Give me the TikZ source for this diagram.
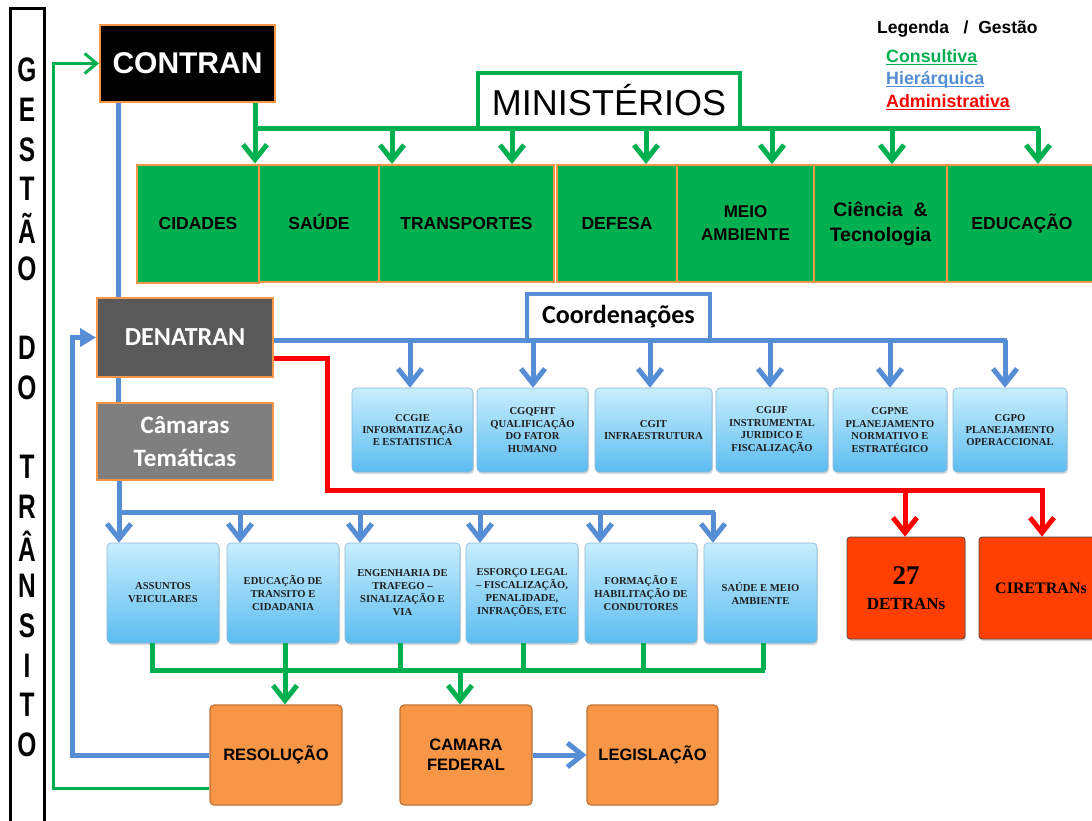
\documentclass[tikz,border=0pt]{standalone}
\usepackage{fontspec}
\setmainfont{Liberation Sans}
\newfontfamily\calib{Carlito}
\newfontfamily\serf{Liberation Serif}
\usetikzlibrary{arrows.meta,shadows}
\definecolor{gr}{RGB}{0,176,80}
\definecolor{bl}{RGB}{85,142,213}
\definecolor{rd}{RGB}{255,0,0}
\definecolor{orb}{RGB}{247,150,70}
\definecolor{orline}{RGB}{190,115,55}
\definecolor{redbox}{RGB}{255,64,0}
\definecolor{lbtop}{RGB}{200,238,253}
\definecolor{lbbot}{RGB}{92,188,240}
\definecolor{lbbord}{RGB}{140,185,215}
\definecolor{dgray}{RGB}{89,89,89}
\definecolor{mgray}{RGB}{127,127,127}
\definecolor{txt}{RGB}{30,30,30}
\tikzset{
  ministry/.style={draw=orb, line width=2pt, fill=gr, inner sep=0pt, minimum height=117pt, align=center, font=\bfseries\fontsize{17.5}{22}\selectfont},
  oneline/.style={text height=12.6pt, text depth=0pt},
  topbox/.style={draw=orb, line width=2pt, inner sep=0pt, text=white, align=center},
  coordbox/.style={draw=lbbord, line width=0.6pt, rounded corners=4pt, top color=lbtop, bottom color=lbbot, inner sep=0pt, minimum height=84pt, align=center, text=txt, font=\serf\bfseries\fontsize{10.6}{12.4}\selectfont, drop shadow={opacity=0.3, shadow xshift=1pt, shadow yshift=-2pt}},
  ctbox/.style={coordbox, minimum height=100pt, font=\serf\bfseries\fontsize{10.6}{13}\selectfont},
  orbox/.style={draw=orline, line width=1.2pt, rounded corners=4pt, fill=orb, inner sep=0pt, minimum width=132pt, minimum height=100pt, align=center, font=\bfseries\fontsize{16.5}{20}\selectfont},
  redb/.style={draw=gray!60!black, line width=0.8pt, rounded corners=3pt, fill=redbox, inner sep=0pt, minimum height=102pt, align=center, font=\serf\bfseries, drop shadow={opacity=0.3, shadow xshift=1pt, shadow yshift=-2pt}},
  vletter/.style={inner sep=0pt, font=\bfseries\fontsize{34}{34}\selectfont, xscale=0.72},
  legtxt/.style={anchor=base west, inner sep=0pt, font=\bfseries\fontsize{17.8}{20}\selectfont},
  gline/.style={draw=gr, line width=5pt},
  bline/.style={draw=bl, line width=5pt},
  rline/.style={draw=rd, line width=5pt},
  barb/.style={-{Straight Barb[length=15pt,width=24pt]}},
  garr/.style={gline, barb},
  barr/.style={bline, barb},
  rarr/.style={rline, barb},
}
\begin{document}
\begin{tikzpicture}[x=1pt,y=-1pt]
\useasboundingbox (0,0) rectangle (1092,820);
\fill[white] (0,0) rectangle (1092,820);

% left vertical title
\draw[line width=3pt] (10,8) rectangle (44,840);
\foreach \i/\ch in {1/G,2/E,3/S,4/T,5/Ã,6/O,8/D,9/O,11/T,12/R,13/Â,14/N,15/S,16/I,17/T,18/O}
  \node[vletter] (v\i) at (27,{70+(\i-1)*39.7}) {\ch};

% legend
\node[anchor=base west, inner sep=0pt, font=\bfseries\fontsize{17.5}{20}\selectfont] (lega) at (877,33) {Legenda \ \ / \ Gestão};
\node[legtxt, text=gr] (legc) at (886,62) {Consultiva};
\node[legtxt, text=bl] (legh) at (886,84) {Hierárquica};
\node[legtxt, text=rd] (legd) at (886,107) {Administrativa};
\draw[gr, line width=1.6pt] ([yshift=-2.6pt]legc.base west) -- ([yshift=-2.6pt]legc.base east);
\draw[bl, line width=1.6pt] ([yshift=-2.6pt]legh.base west) -- ([yshift=-2.6pt]legh.base east);
\draw[rd, line width=1.6pt] ([yshift=-2.6pt]legd.base west) -- ([yshift=-2.6pt]legd.base east);

% top nodes
\node[topbox, fill=black, minimum width=175pt, minimum height=77pt, font=\bfseries\fontsize{30}{32}\selectfont] (contran) at (187.5,63.5) {CONTRAN};
\node[topbox, fill=dgray, minimum width=176pt, minimum height=79pt, font=\calib\bfseries\fontsize{26}{28}\selectfont] (denatran) at (185,337.5) {DENATRAN};
\node[topbox, fill=mgray, minimum width=176pt, minimum height=77pt, font=\calib\bfseries\fontsize{25}{33}\selectfont] (camaras) at (185,441.5) {Câmaras\\Temáticas};

% ministries
\node[ministry, oneline, minimum width=122pt, minimum height=118pt] (cid) at (198,223.5) {CIDADES};
\node[ministry, oneline, minimum width=120pt] (sau) at (319,223.5) {SAÚDE};
\node[ministry, oneline, minimum width=175pt] (tra) at (466.5,223.5) {TRANSPORTES};
\node[ministry, oneline, minimum width=120pt] (def) at (617,223.5) {DEFESA};
\node[ministry, minimum width=137pt, font=\bfseries\fontsize{17}{23}\selectfont] (mei) at (745.5,223.5) {MEIO\\AMBIENTE};
\node[ministry, minimum width=133pt, font=\bfseries\fontsize{19.5}{25}\selectfont] (cie) at (880.5,223.5) {Ciência \ \&\\Tecnologia};
\node[ministry, oneline, minimum width=150pt] (edu) at (1022,223.5) {EDUCAÇÃO};

% CONTRAN -> ministries (consultiva)
\draw[gline] (255,128) -- (1040,128);
\draw[garr] (contran.south -| 255,0) -- (255,0 |- cid.north);
\foreach \x/\n in {392/tra,512/tra,646/def,772/mei,892/cie,1038/edu}
  \draw[garr] (\x,128) -- (\x,0 |- \n.north);
\node[draw=gr, line width=4pt, fill=white, inner sep=0pt, minimum width=262pt, minimum height=55pt, font=\fontsize{36}{38}\selectfont] (min) at (609,100.5) {MINISTÉRIOS};

% hierarchy vertical
\draw[bline] (contran.south -| 118,0) -- (118,0 |- denatran.north);
\draw[bline] (denatran.south -| 118,0) -- (118,0 |- camaras.north);

% coordenacoes
\node[coordbox, minimum width=121pt] (c1) at (412.5,430) {CCGIE\\INFORMATIZAÇÃO\\E ESTATISTICA};
\node[coordbox, minimum width=111pt] (c2) at (532.5,430) {CGQFHT\\QUALIFICAÇÃO\\DO FATOR\\HUMANO};
\node[coordbox, minimum width=117pt] (c3) at (653.5,430) {CGIT\\INFRAESTRUTURA};
\node[coordbox, minimum width=112pt] (c4) at (772,430) {CGIJF\\INSTRUMENTAL\\JURIDICO E\\FISCALIZAÇÃO};
\node[coordbox, minimum width=114pt] (c5) at (890,430) {CGPNE\\PLANEJAMENTO\\NORMATIVO E\\ESTRATÉGICO};
\node[coordbox, minimum width=114pt] (c6) at (1010,430) {CGPO\\PLANEJAMENTO\\OPERACCIONAL};
\draw[bline] (denatran.east |- 0,340) -- (1007,340);
\foreach \x/\n in {410/c1,533/c2,650/c3,770/c4,890/c5,1005/c6}
  \draw[barr] (\x,340) -- (\x,0 |- \n.north);
\node[draw=bl, line width=4pt, fill=white, inner sep=0pt, minimum width=183pt, minimum height=46pt, font=\calib\bfseries\fontsize{26}{28}\selectfont] (coord) at (618.5,317) {Coordenações};

% camaras tematicas boxes
\node[ctbox, minimum width=112pt] (t1) at (163,593) {ASSUNTOS\\VEICULARES};
\node[ctbox, minimum width=112pt] (t2) at (283,593) {EDUCAÇÃO DE\\TRANSITO E\\CIDADANIA};
\node[ctbox, minimum width=115pt] (t3) at (402.5,593) {ENGENHARIA DE\\TRAFEGO –\\SINALIZAÇÃO E\\VIA};
\node[ctbox, minimum width=112pt] (t4) at (522,593) {ESFORÇO LEGAL\\– FISCALIZAÇÃO,\\PENALIDADE,\\INFRAÇÕES, ETC};
\node[ctbox, minimum width=112pt] (t5) at (641,593) {FORMAÇÃO E\\HABILITAÇÃO DE\\CONDUTORES};
\node[ctbox, minimum width=113pt] (t6) at (760.5,593) {SAÚDE E MEIO\\AMBIENTE};
\draw[bline] (118,512) -- (715,512);
\draw[barr] (camaras.south -| 119,0) -- (119,0 |- t1.north);
\foreach \x/\n in {240/t2,360/t3,480/t4,600/t5,713/t6}
  \draw[barr] (\x,512) -- (\x,0 |- \n.north);

% bottom orange boxes
\node[orbox] (res) at (276,755) {RESOLUÇÃO};
\node[orbox] (cam) at (466,755) {CAMARA\\FEDERAL};
\node[orbox, minimum width=131pt] (leg) at (652.5,755) {LEGISLAÇÃO};

% green collection
\draw[gline] (152,0 |- t1.south) -- (152,670) -- (765,670);
\foreach \x/\n in {285/t2,400/t3,523/t4,643/t5,763/t6}
  \draw[gline] (\x,0 |- \n.south) -- (\x,670);
\draw[garr] (285,670) -- (285,0 |- res.north);
\draw[garr] (460,670) -- (460,0 |- cam.north);
\draw[barr] (cam.east) -- (leg.west);

% loops back
\draw[draw=gr, line width=3pt, -{Straight Barb[length=12pt,width=20pt]}] ([yshift=-33pt]res.west) -| (53,0 |- contran.west) -- (contran.west);
\draw[bline, -{Triangle[length=16pt,width=18pt]}] (res.west) -| (72,0 |- denatran.west) -- (denatran.west);

% administrative
\node[redb, minimum width=118pt, font=\serf\bfseries\fontsize{17}{25}\selectfont] (det) at (906,588) {{\fontsize{27}{27}\selectfont 27}\\{DETRANs}};
\node[redb, minimum width=124pt, font=\serf\bfseries\fontsize{16}{18}\selectfont] (cire) at (1041,588) {CIRETRANs};
\draw[rline, barb] ([yshift=-20.5pt]denatran.east) -| (327,490) -- (1042,490) -- (1042,0 |- cire.north);
\draw[rarr] (905,490) -- (905,0 |- det.north);
\end{tikzpicture}
\end{document}
